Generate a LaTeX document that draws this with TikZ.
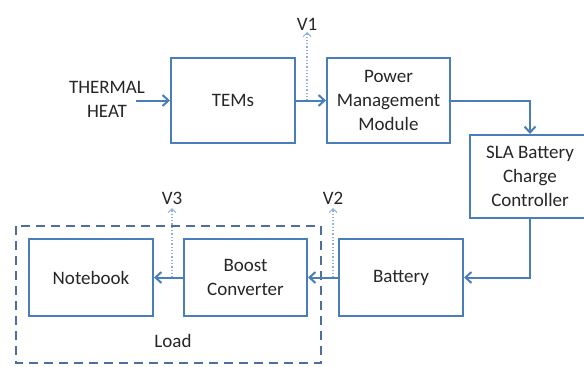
\documentclass[tikz,border=0pt]{standalone}
\usepackage{fontspec}
\setmainfont{Carlito}
\usetikzlibrary{arrows.meta}
\definecolor{boxblue}{HTML}{4A7EBB}
\definecolor{dashblue}{HTML}{4F6E9E}
\definecolor{dotblue}{HTML}{8FAEDB}
\definecolor{txt}{HTML}{262626}
\tikzset{
  blk/.style={draw=boxblue, line width=2pt, fill=white, text=txt, align=center,
    font=\fontsize{19}{24}\selectfont, inner sep=0pt},
  flow/.style={draw=boxblue, line width=2pt, -{Straight Barb[length=6pt,width=11pt,line width=2pt]}},
  probe/.style={draw=dotblue, line width=1.3pt, dotted, -{Straight Barb[length=4pt,width=8pt,line width=1pt]}},
  lbl/.style={text=txt, font=\fontsize{19}{24}\selectfont, align=center, inner sep=0pt},
}
\begin{document}
\begin{tikzpicture}[x=1pt,y=-1pt]
\useasboundingbox (0,0) rectangle (584,367);
\clip (0,0) rectangle (584,367);
% dashed load region
\draw[dashblue, line width=2.2pt, dash pattern=on 9pt off 6pt] (16,226) rectangle (321,363);
\node[lbl] (load) at (173,341) {Load};
% blocks
\node[blk, minimum width=124pt, minimum height=85pt] (tems) at (233,100.5) {TEMs};
\node[blk, minimum width=123pt, minimum height=85pt] (pmm) at (388.5,100.5) {Power\\Management\\Module};
\node[blk, minimum width=130pt, minimum height=83pt, anchor=west] (sla) at (469,176.5) {};
\node[lbl] (slat) at (530,176.5) {SLA Battery\\Charge\\Controller};
\node[blk, minimum width=124pt, minimum height=77pt] (bat) at (401,277.5) {Battery};
\node[blk, minimum width=123pt, minimum height=77pt] (boost) at (245.5,277.5) {Boost\\Converter};
\node[blk, minimum width=124pt, minimum height=77pt] (nb) at (91,277.5) {Notebook};
% input
\node[lbl] (heat) at (107,99) {THERMAL\\HEAT};
% coordinates
\coordinate (c1) at (530,100.5);
\coordinate (c2) at (530,277.5);
\coordinate (p1) at (307,100.5);
\coordinate (p1t) at (307,32);
\coordinate (p2) at (333,277.5);
\coordinate (p2t) at (333,208);
\coordinate (p3) at (172,277.5);
\coordinate (p3t) at (172,208);
% probes
\draw[probe] (p1) -- (p1t);
\draw[probe] (p2) -- (p2t);
\draw[probe] (p3) -- (p3t);
\node[lbl, anchor=south] (v1) at (307,31) {V1};
\node[lbl, anchor=south] (v2) at (333,205) {V2};
\node[lbl, anchor=south] (v3) at (172,205) {V3};
% flows
\draw[flow] (heat.east |- tems.west) ++(-9,0) -- (tems.west);
\draw[flow] (tems.east) -- (pmm.west);
\draw[flow] (pmm.east) -- (c1) -- (c1 |- sla.north);
\draw[flow] (c1 |- sla.south) -- (c2) -- (bat.east);
\draw[flow] (bat.west) -- (boost.east);
\draw[flow] (boost.west) -- (nb.east);
\end{tikzpicture}
\end{document}
